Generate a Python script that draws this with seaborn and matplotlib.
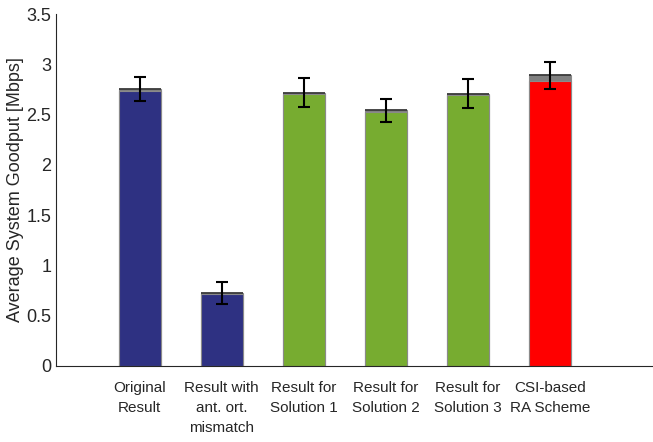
import matplotlib
matplotlib.use("Agg")
import matplotlib.pyplot as plt
import seaborn as sns
import pandas as pd

# data
labels = ["Original\nResult", "Result with\nant. ort.\nmismatch", "Result for\nSolution 1",
          "Result for\nSolution 2", "Result for\nSolution 3", "CSI-based\nRA Scheme"]
base = [2.74, 0.72, 2.71, 2.53, 2.70, 2.83]
extra = [0.015, 0.008, 0.01, 0.015, 0.01, 0.06]
err = [0.12, 0.11, 0.14, 0.115, 0.14, 0.13]
colors = ["#2E3182", "#2E3182", "#77AC30", "#77AC30", "#77AC30", "#FF0000"]

df = pd.DataFrame({"label": labels, "base": base, "extra": extra, "err": err})
df["total"] = df["base"] + df["extra"]

sns.set_style("white")
plt.rcParams['font.family'] = ['Liberation Sans', 'DejaVu Sans']

fig = plt.figure(figsize=(6.53, 4.42), dpi=100)
ax = fig.add_axes([0.086, 0.172, 0.914, 0.796])

# gray top segment (stacked), then the coloured part
sns.barplot(data=df, x="label", y="total", color="#808080", width=0.51, saturation=1,
            edgecolor="#8a8a8a", linewidth=0.8, ax=ax)
sns.barplot(data=df, x="label", y="base", hue="label", palette=colors, width=0.51,
            saturation=1, edgecolor="#8a8a8a", linewidth=0.8, legend=False, ax=ax)
# dark edge on top of each bar
ax.hlines(df["total"], [i - 0.255 for i in range(len(df))], [i + 0.255 for i in range(len(df))],
          color="#3a3a3a", linewidth=1.3, zorder=4)

ax.errorbar(range(len(df)), df["total"], yerr=df["err"], fmt="none",
            ecolor="black", elinewidth=1.5, capsize=4.5, capthick=1.5, zorder=5)

ax.set_xlim(-1.02, 6.26)
ax.set_ylim(0, 3.5)
ax.set_yticks([0, 0.5, 1, 1.5, 2, 2.5, 3, 3.5])
ax.set_yticklabels(["0", "0.5", "1", "1.5", "2", "2.5", "3", "3.5"])
ax.set_xlabel("")
ax.set_ylabel("Average System Goodput [Mbps]", fontsize=13, color="#262626", labelpad=2)
ax.tick_params(axis="y", direction="in", length=4, labelsize=13, colors="#262626", width=0.8)
ax.tick_params(axis="x", length=0, labelsize=11, colors="#262626", pad=11)
for lbl in ax.get_xticklabels():
    lbl.set_verticalalignment("top")
    lbl.set_linespacing(1.55)

sns.despine(ax=ax, top=True, right=True)
ax.spines["left"].set_color("#262626")
ax.spines["bottom"].set_color("#262626")
ax.spines["left"].set_linewidth(0.8)
ax.spines["bottom"].set_linewidth(0.8)

fig.savefig("out.png", dpi=100)
